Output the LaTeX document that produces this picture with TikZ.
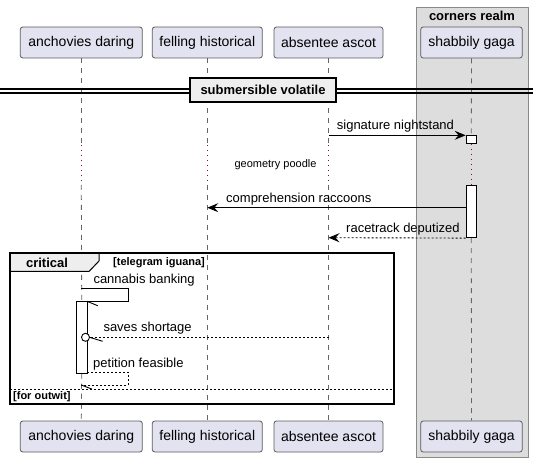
\documentclass[tikz,border=0pt]{standalone}
\usepackage{fontspec}
\setmainfont{Liberation Sans}
\usetikzlibrary{arrows.meta}
\definecolor{partfill}{HTML}{E2E2F0}
\definecolor{partline}{HTML}{5A5A5A}
\definecolor{lifecol}{HTML}{666666}
\definecolor{delaycol}{HTML}{8B0A3A}
\definecolor{boxfill}{HTML}{DDDDDD}
\definecolor{boxline}{HTML}{8A8A8A}
\definecolor{tabfill}{HTML}{EEEEEE}
\tikzset{
  part/.style={draw=partline, fill=partfill, rounded corners=2.5pt, minimum height=31pt, inner sep=0pt, line width=0.8pt, font=\fontsize{14}{16}\selectfont},
  life/.style={draw=lifecol, line width=0.8pt, dash pattern=on 5pt off 5pt},
  delayline/.style={draw=delaycol, line width=0.9pt, dash pattern=on 1pt off 4pt},
  act/.style={draw=black, fill=white, minimum width=10.5pt, inner sep=0pt, line width=0.8pt},
  msg/.style={draw=black, line width=0.9pt, -{Stealth[length=11pt,width=9pt,inset=4pt]}},
  dmsg/.style={msg, dash pattern=on 2pt off 2pt},
  barb/.style={draw=black, line width=0.9pt},
  mtext/.style={font=\fontsize{13}{15}\selectfont, anchor=base west, inner sep=0pt},
  btext/.style={font=\bfseries\fontsize{13}{15}\selectfont, inner sep=0pt},
  stext/.style={font=\bfseries\fontsize{11}{13}\selectfont, inner sep=0pt},
}
\begin{document}
\begin{tikzpicture}[x=1pt,y=-1pt]
\useasboundingbox (0,0) rectangle (533,462);
% group box
\node[draw=boxline, fill=boxfill, line width=0.9pt, minimum width=112pt, minimum height=450pt, inner sep=0pt] (grp) at (472,232) {};
\node[btext] (grpt) at (472,15.5) {corners realm};
% participants top
\node[part, minimum width=122pt] (aT) at (81.3,42.5) {anchovies daring};
\node[part, minimum width=110pt] (fT) at (207.3,42.5) {felling historical};
\node[part, minimum width=109pt] (sT) at (328.5,42.5) {absentee ascot};
\node[part, minimum width=101.5pt] (gT) at (471.5,42.5) {shabbily gaga};
% participants bottom
\node[part, minimum width=122pt] (aB) at (81.3,436.5) {anchovies daring};
\node[part, minimum width=110pt] (fB) at (207.3,436.5) {felling historical};
\node[part, minimum width=109pt] (sB) at (328.5,436.5) {absentee ascot};
\node[part, minimum width=101.5pt] (gB) at (471.5,436.5) {shabbily gaga};
% delay coordinates
\coordinate (a1) at (81.3,145); \coordinate (a2) at (81.3,185);
\coordinate (f1) at (207.3,145); \coordinate (f2) at (207.3,185);
\coordinate (s1) at (328.5,145); \coordinate (s2) at (328.5,185);
% activations
\node[act, minimum height=8pt] (g1) at (471.3,139.3) {};
\node[act, minimum height=52pt] (g2) at (471.3,211.7) {};
\node[act, minimum height=72.3pt] (a3) at (81.7,337.2) {};
% lifelines
\draw[life] (aT.south) -- (a1); \draw[delayline] (a1) -- (a2); \draw[life] (a2) -- (a3.north);
\draw[life] (a3.south) -- (aB.north);
\draw[life] (fT.south) -- (f1); \draw[delayline] (f1) -- (f2); \draw[life] (f2) -- (fB.north);
\draw[life] (sT.south) -- (s1); \draw[delayline] (s1) -- (s2); \draw[life] (s2) -- (sB.north);
\draw[life] (gT.south) -- (g1.north);
\draw[delayline] (g1.south) -- (g2.north);
\draw[life] (g2.south) -- (gB.north);
% redraw activations above lifelines
\node[act, minimum height=8pt] at (g1) {};
\node[act, minimum height=52pt] at (g2) {};
\node[act, minimum height=72.3pt] at (a3) {};
% divider
\draw[line width=1.2pt] (0,89) -- (533,89);
\draw[line width=1.2pt] (0,93) -- (533,93);
\node[draw=black, fill=tabfill, line width=1.6pt, minimum width=146pt, minimum height=23.5pt, inner sep=0pt, font=\bfseries\fontsize{13}{15}\selectfont] (div) at (263,90) {submersible volatile};
% messages
\coordinate (m1s) at (328.5,135.3);
\draw[msg] (m1s) -- (g1.west |- m1s);
\node[mtext] (m1t) at (336.7,129.8) {signature nightstand};
\node[font=\fontsize{11}{13}\selectfont, inner sep=0pt] (gp) at (275.5,165) {geometry poodle};
\coordinate (m2e) at (207.3,207.7);
\draw[msg] (g2.west |- m2e) -- (m2e);
\node[mtext] (m2t) at (226,202.3) {comprehension raccoons};
\coordinate (m3e) at (328.5,237.7);
\draw[dmsg] (g2.south west) -- (m3e);
\node[mtext] (m3t) at (346,232.3) {racetrack deputized};
% critical frame
\draw[fill=tabfill, line width=1pt] (10,253) -- (99,253) -- (99,261) -- (89,271.5) -- (10,271.5);
\draw[line width=1.5pt] (10,253) rectangle (394,404);
\node[btext] (crit) at (47,262.5) {critical};
\node[stext, anchor=west] (cg) at (113,262.5) {[telegram iguana]};
% cannabis banking (self)
\coordinate (c1) at (81.3,288.3); \coordinate (c2) at (128.3,288.3);
\coordinate (c3) at (128.3,301.3); \coordinate (c4) at (87,301.3);
\coordinate (c5) at (97.7,305.7);
\draw[barb] (c1) -- (c2) -- (c3) -- (c4);
\draw[barb] (c4) -- (c5);
\node[mtext] (ct) at (93.3,283.5) {cannabis banking};
% saves shortage
\coordinate (v1) at (328.5,337.3); \coordinate (vc) at (85.5,337.3);
\coordinate (v2) at (89.5,337.3); \coordinate (v3) at (102.7,341.3);
\draw[barb, dash pattern=on 2pt off 2pt] (v1) -- (v2);
\draw[barb] (v2) -- (v3);
\draw[barb, fill=white] (vc) circle (4pt);
\node[mtext] (vt) at (103.3,331.3) {saves shortage};
% petition feasible (self)
\coordinate (p1) at (86.9,372.3); \coordinate (p2) at (128.3,372.3);
\coordinate (p3) at (128.3,385); \coordinate (p4) at (81.3,385);
\coordinate (p5) at (91.7,389);
\draw[barb, dash pattern=on 2pt off 2pt] (p1) -- (p2) -- (p3) -- (p4);
\draw[barb] (p4) -- (p5);
\node[mtext] (pt) at (93,367.3) {petition feasible};
% else separator
\draw[line width=0.9pt, dash pattern=on 2pt off 2pt] (10,389.3) -- (394,389.3);
\node[stext, anchor=west] (fo) at (13,396.7) {[for outwit]};
\end{tikzpicture}
\end{document}
